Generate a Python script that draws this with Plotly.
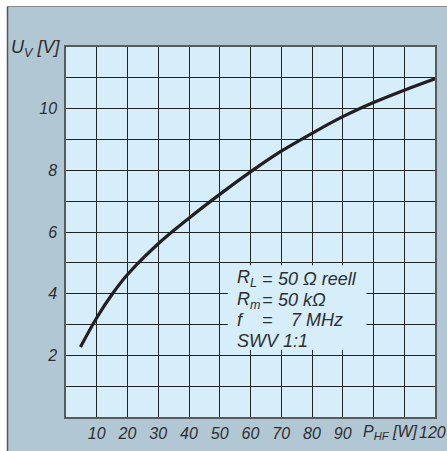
import plotly.graph_objects as go

# Data
power_w = [4.7, 10, 15, 20, 30, 40, 50, 60, 70, 80, 90, 100, 110, 120]
voltage_v = [2.27, 3.22, 3.98, 4.62, 5.62, 6.45, 7.22, 7.95, 8.62, 9.2, 9.74, 10.2, 10.6, 10.97]

x_ticks = [10, 20, 30, 40, 50, 60, 70, 80, 90]
y_ticks = [2, 4, 6, 8, 10]

legend_left = ["R<sub>L</sub>", "R<sub>m</sub>", "f", "SWV 1:1"]
legend_eq = ["=", "=", "=", ""]
legend_right = ["50 Ω reell", "50 kΩ", "7 MHz", ""]

BG = "rgb(177,199,211)"
PLOT_BG = "rgb(214,237,250)"
TXT = "#2e2e2e"
FONT = "Liberation Sans, Arial, sans-serif"

fig = go.Figure()
fig.add_trace(go.Scatter(
    x=power_w, y=voltage_v, mode="lines",
    line=dict(color="#231f20", width=3.2, shape="spline", smoothing=1.0),
    hoverinfo="skip", showlegend=False,
))

axis_common = dict(
    showgrid=True, gridcolor="#222222", gridwidth=1.2,
    showline=True, mirror=True, linecolor="#5a5a5a", linewidth=1.5,
    zeroline=False, ticks="outside", tickcolor="rgba(0,0,0,0)",
    tickfont=dict(family=FONT, size=16, color=TXT, style="italic"),
    fixedrange=True, automargin=False,
)

fig.update_xaxes(range=[0, 120], tickvals=x_ticks, ticklen=1, **axis_common)
fig.update_yaxes(range=[0, 12], tickvals=y_ticks, ticklen=4, **axis_common)
fig.update_xaxes(minor=dict(dtick=10, tick0=0, showgrid=True, gridcolor="#222222", gridwidth=1.2))
fig.update_yaxes(minor=dict(dtick=1, tick0=0, showgrid=True, gridcolor="#222222", gridwidth=1.2))

shapes = []
# Text box background covering gridlines
shapes.append(dict(type="rect", xref="x", yref="y", x0=52.6, x1=97.7, y0=2.17, y1=4.92,
                   fillcolor=PLOT_BG, line=dict(width=0), layer="above"))
# White outer margins and frame lines
shapes.append(dict(type="rect", xref="paper", yref="paper", x0=-0.25, x1=(7 - 66) / 369,
                   y0=-0.2, y1=1.2, fillcolor="white", line=dict(width=0), layer="above"))
shapes.append(dict(type="rect", xref="paper", yref="paper", x0=-0.25, x1=1.1,
                   y0=(417 - 6) / 370, y1=1.2, fillcolor="white", line=dict(width=0), layer="above"))
shapes.append(dict(type="line", xref="paper", yref="paper", x0=(7.5 - 66) / 369, x1=(7.5 - 66) / 369,
                   y0=-0.2, y1=(417 - 6.5) / 370, line=dict(color="#555555", width=1.5), layer="above"))
shapes.append(dict(type="line", xref="paper", yref="paper", x0=(7.5 - 66) / 369, x1=1.1,
                   y0=(417 - 6.5) / 370, y1=(417 - 6.5) / 370, line=dict(color="#8a8a8a", width=1.2), layer="above"))

annotations = []
afont = dict(family=FONT, size=18, color=TXT, style="italic")
line_y = [4.49, 3.79, 3.14, 2.47]
right_x = [68.4, 68.4, 72.5, None]
for i in range(4):
    annotations.append(dict(x=54.8, y=line_y[i], xref="x", yref="y", text=legend_left[i],
                            showarrow=False, xanchor="left", yanchor="middle", font=afont))
    if legend_eq[i]:
        annotations.append(dict(x=65.6, y=line_y[i], xref="x", yref="y", text=legend_eq[i],
                                showarrow=False, xanchor="center", yanchor="middle", font=afont))
    if legend_right[i]:
        annotations.append(dict(x=right_x[i], y=line_y[i], xref="x", yref="y",
                                text=legend_right[i], showarrow=False, xanchor="left",
                                yanchor="middle", font=afont))

tfont = dict(family=FONT, size=16, color=TXT, style="italic")
annotations.append(dict(x=0, y=1, xref="paper", yref="paper", text="U<sub>V</sub> [V]",
                        showarrow=False, xanchor="right", yanchor="middle", xshift=-4, yshift=-1,
                        font=dict(family=FONT, size=18, color=TXT, style="italic")))
annotations.append(dict(x=105.5, y=-0.0432, xref="x", yref="paper", text="P<sub>HF</sub> [W]",
                        showarrow=False, xanchor="center", yanchor="middle", font=tfont))
annotations.append(dict(x=1, y=-0.0432, xref="paper", yref="paper", text="120",
                        showarrow=False, xanchor="right", yanchor="middle", xshift=13, font=tfont))

fig.update_layout(
    width=447, height=451,
    margin=dict(l=66, r=12, t=47, b=34, pad=0),
    paper_bgcolor=BG, plot_bgcolor=PLOT_BG,
    shapes=shapes, annotations=annotations,
    showlegend=False,
)

fig.write_html("out.html", config=dict(displayModeBar=False),
               post_script="document.body.style.margin='0';document.body.style.overflow='hidden';")
